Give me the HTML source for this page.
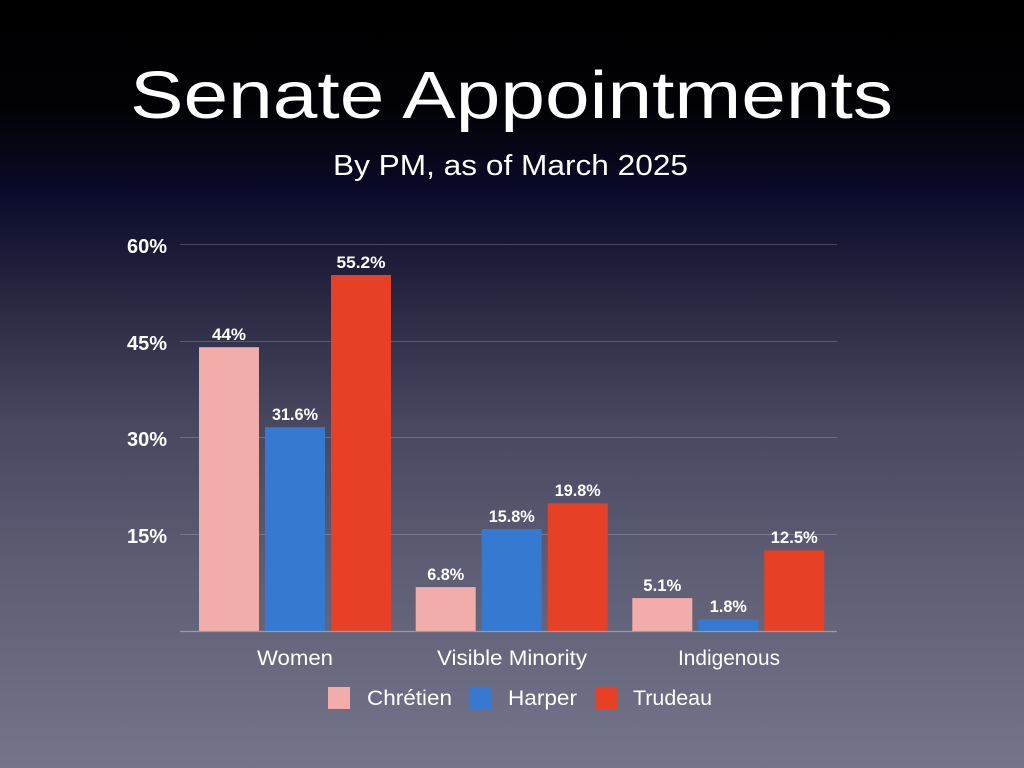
<!DOCTYPE html>
<html><head><meta charset="utf-8"><style>
html,body{margin:0;padding:0;width:1024px;height:768px;overflow:hidden;background:#000}
svg{display:block}
</style></head><body>
<svg width="1024" height="768" viewBox="0 0 1024 768" xmlns="http://www.w3.org/2000/svg">
<defs>
<linearGradient id="bg" x1="0" y1="0" x2="0" y2="1">
<stop offset="0" stop-color="#000000"/>
<stop offset="0.14" stop-color="#020206"/>
<stop offset="0.25" stop-color="#0a0a2a"/>
<stop offset="0.40" stop-color="#2a2a45"/>
<stop offset="0.55" stop-color="#474760"/>
<stop offset="0.75" stop-color="#5e5e75"/>
<stop offset="1" stop-color="#74748a"/>
</linearGradient>
</defs>
<rect x="0" y="0" width="1024" height="768" fill="url(#bg)"/>

<g font-family="'Liberation Sans', sans-serif" fill="#ffffff">
<text x="130" y="118" font-size="67" textLength="763" lengthAdjust="spacingAndGlyphs">Senate Appointments</text>
<text x="333" y="175" font-size="29" textLength="355" lengthAdjust="spacingAndGlyphs">By PM, as of March 2025</text>
</g>

<!-- gridlines -->
<g stroke="#ffffff" stroke-opacity="0.2" stroke-width="1">
<line x1="180" y1="244.5" x2="837" y2="244.5"/>
<line x1="180" y1="341.5" x2="837" y2="341.5"/>
<line x1="180" y1="437.5" x2="837" y2="437.5"/>
<line x1="180" y1="534.5" x2="837" y2="534.5"/>
</g>

<!-- bars -->
<g>
<rect x="199" y="347.2" width="60" height="283.8" fill="#f2adaa"/>
<rect x="265" y="427.2" width="60" height="203.8" fill="#3579d0"/>
<rect x="331" y="275" width="60" height="356" fill="#e84027"/>
<rect x="415.7" y="587.1" width="60" height="43.9" fill="#f2adaa"/>
<rect x="481.7" y="529.1" width="60" height="101.9" fill="#3579d0"/>
<rect x="547.7" y="503.3" width="60" height="127.7" fill="#e84027"/>
<rect x="632.3" y="598.1" width="60" height="32.9" fill="#f2adaa"/>
<rect x="698.3" y="619.4" width="60" height="11.6" fill="#3579d0"/>
<rect x="764.3" y="550.4" width="60" height="80.6" fill="#e84027"/>
</g>

<line x1="180" y1="631.5" x2="837" y2="631.5" stroke="#9a9aaa" stroke-width="1.2"/>

<!-- y labels -->
<g font-family="'Liberation Sans', sans-serif" font-weight="bold" font-size="20" fill="#ffffff" text-anchor="end">
<text x="167" y="253">60%</text>
<text x="167" y="350">45%</text>
<text x="167" y="446">30%</text>
<text x="167" y="543">15%</text>
</g>

<!-- value labels -->
<g font-family="'Liberation Sans', sans-serif" font-weight="bold" font-size="17" fill="#ffffff" text-anchor="middle">
<text x="229" y="340" textLength="34" lengthAdjust="spacingAndGlyphs">44%</text>
<text x="295" y="420" textLength="46" lengthAdjust="spacingAndGlyphs">31.6%</text>
<text x="361" y="268" textLength="49" lengthAdjust="spacingAndGlyphs">55.2%</text>
<text x="445.7" y="580" textLength="37" lengthAdjust="spacingAndGlyphs">6.8%</text>
<text x="511.7" y="522" textLength="46" lengthAdjust="spacingAndGlyphs">15.8%</text>
<text x="577.7" y="496" textLength="46" lengthAdjust="spacingAndGlyphs">19.8%</text>
<text x="662.3" y="591" textLength="38" lengthAdjust="spacingAndGlyphs">5.1%</text>
<text x="728.3" y="612" textLength="37" lengthAdjust="spacingAndGlyphs">1.8%</text>
<text x="794.3" y="543" textLength="47" lengthAdjust="spacingAndGlyphs">12.5%</text>
</g>

<!-- category labels -->
<g font-family="'Liberation Sans', sans-serif" font-size="21" fill="#ffffff">
<text x="257" y="665" textLength="76" lengthAdjust="spacingAndGlyphs">Women</text>
<text x="437" y="665" textLength="150" lengthAdjust="spacingAndGlyphs">Visible Minority</text>
<text x="678" y="665" textLength="102" lengthAdjust="spacingAndGlyphs">Indigenous</text>
</g>

<!-- legend -->
<rect x="328" y="687" width="22" height="22" fill="#f2adaa"/>
<rect x="470" y="687" width="22" height="22" fill="#3579d0"/>
<rect x="596" y="687" width="22" height="22" fill="#e84027"/>
<g font-family="'Liberation Sans', sans-serif" font-size="21" fill="#ffffff">
<text x="367" y="705" textLength="85" lengthAdjust="spacingAndGlyphs">Chrétien</text>
<text x="508" y="705" textLength="69" lengthAdjust="spacingAndGlyphs">Harper</text>
<text x="633" y="705" textLength="79" lengthAdjust="spacingAndGlyphs">Trudeau</text>
</g>
</svg>
</body></html>
